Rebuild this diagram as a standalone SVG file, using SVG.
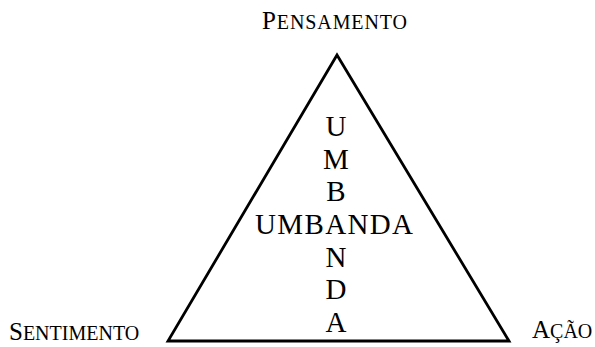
<svg xmlns="http://www.w3.org/2000/svg" width="595" height="347" viewBox="0 0 595 347">
<style>
text { font-family: "Liberation Serif", "Times New Roman", serif; fill: #000; }
.lbl { font-size: 25px; }
.sc { font-size: 20px; }
.u { font-size: 29px; text-anchor: middle; }
.tri { fill: none; stroke: #000; stroke-width: 2.8; stroke-linejoin: miter; }
</style>
<rect width="595" height="347" fill="#fff"/>
<g id="triangle">
<polygon class="tri" points="337,55 168,341 509,341"/>
</g>
<g id="pensamento">
<text class="lbl" x="262" y="29" textLength="145" lengthAdjust="spacing">P<tspan class="sc">ENSAMENTO</tspan></text>
</g>
<g id="sentimento">
<text class="lbl" x="9" y="340">S<tspan class="sc">ENTIMENTO</tspan></text>
</g>
<g id="acao">
<text class="lbl" x="532" y="338">A<tspan class="sc">ÇÃO</tspan></text>
</g>
<g id="umbanda">
<text class="u" x="336" y="136">U</text>
<text class="u" x="336" y="169">M</text>
<text class="u" x="336" y="201">B</text>
<text x="255" y="234" style="font-size:29px" textLength="158" lengthAdjust="spacing">UMBANDA</text>
<text class="u" x="336" y="267">N</text>
<text class="u" x="336" y="299">D</text>
<text class="u" x="336" y="332">A</text>
</g>
<g id="connectors"></g>
</svg>
